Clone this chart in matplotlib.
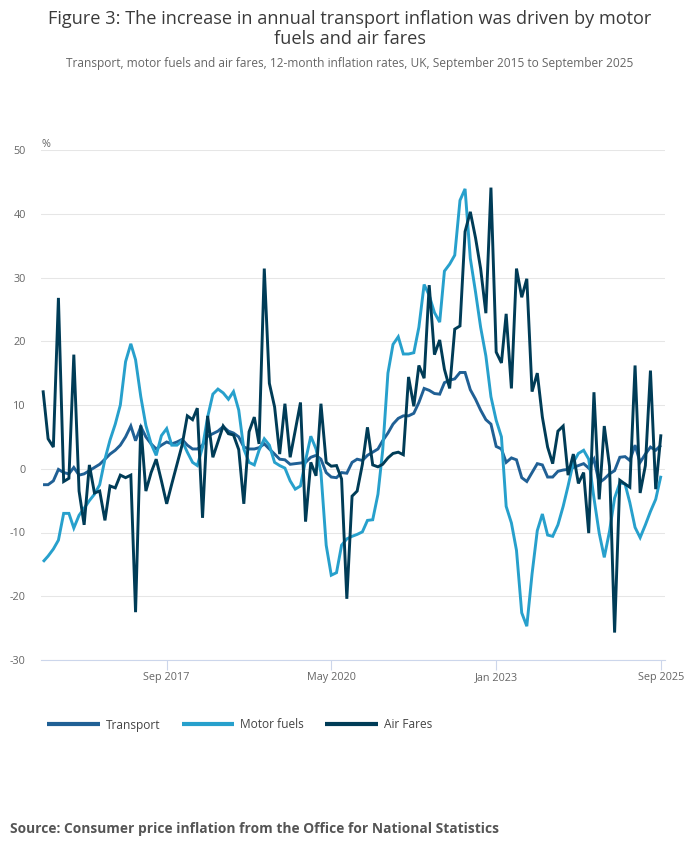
import matplotlib
matplotlib.use('Agg')
import matplotlib.pyplot as plt
import pandas as pd

# meses de Set 2015 a Set 2025
datas = pd.date_range('2015-09-01', '2025-09-01', freq='MS')

transport = [
    -2.5, -2.5, -1.9, -0.1, -0.6, -0.8, 0.2, -1.0, -0.8, -0.3,
    0.2, 0.7, 1.5, 2.3, 2.9, 3.7, 5.0, 6.7, 4.4, 6.6,
    5.0, 3.9, 3.1, 3.7, 4.2, 3.9, 4.2, 4.6, 3.7, 3.1,
    3.1, 3.7, 5.1, 5.5, 5.9, 6.6, 5.9, 5.6, 5.0, 3.4,
    3.1, 3.1, 3.3, 3.9, 3.1, 2.3, 1.5, 1.4, 0.7, 0.8,
    0.9, 1.0, 1.8, 2.1, 1.5, -0.6, -1.3, -1.4, -0.6, -0.7,
    1.0, 1.5, 1.3, 2.1, 2.6, 3.1, 4.4, 5.6, 7.0, 7.9,
    8.3, 8.3, 8.7, 10.4, 12.6, 12.3, 11.8, 11.7, 13.5, 13.9,
    14.1, 15.1, 15.1, 12.4, 10.9, 9.2, 7.7, 7.0, 3.5, 3.1,
    1.0, 1.7, 1.4, -1.4, -2.0, -0.6, 0.8, 0.6, -1.3, -1.3,
    -0.4, -0.2, -0.1, 0.2, 0.5, 0.8, 0.1, 1.5, -2.2, -1.6,
    -0.8, -0.3, 1.8, 1.9, 1.3, 3.7, 1.0, 2.3, 3.4, 2.9,
    3.7,
]

motor_fuels = [
    -14.6, -13.7, -12.6, -11.2, -7.0, -7.0, -9.3, -7.3, -6.2, -5.0,
    -4.0, -2.5, 1.5, 4.5, 7.0, 10.0, 16.8, 19.6, 17.1, 11.3,
    6.8, 3.9, 2.1, 5.2, 6.3, 3.7, 3.7, 4.4, 2.6, 1.0,
    0.5, 3.4, 8.1, 11.7, 12.5, 11.9, 10.9, 12.1, 9.2, 3.1,
    1.0, 0.6, 2.9, 4.7, 3.7, 1.0, 0.5, 0.1, -1.9, -3.2,
    -2.7, 1.3, 5.1, 3.1, -0.6, -12.0, -16.7, -16.3, -12.0, -11.0,
    -10.6, -10.3, -9.9, -8.1, -8.0, -4.0, 2.9, 15.0, 19.5, 20.7,
    18.0, 18.0, 18.2, 22.2, 28.9, 27.2, 24.5, 23.0, 31.0, 32.1,
    33.5, 42.1, 43.9, 33.0, 27.7, 22.2, 17.7, 11.3, 7.6, 5.0,
    -5.9, -8.5, -12.8, -22.6, -24.7, -16.5, -9.7, -7.1, -10.4, -10.6,
    -8.8, -5.9, -2.7, 1.0, 2.4, 2.9, 1.5, -4.6, -10.1, -13.9,
    -9.8, -4.6, -2.2, -2.4, -5.3, -9.2, -10.8, -8.8, -6.7, -4.8,
    -1.1,
]

air_fares = [
    12.3, 4.7, 3.4, 26.8, -2.0, -1.5, 17.9, -3.5, -8.8, 0.6,
    -3.8, -3.5, -8.1, -2.7, -3.0, -1.0, -1.4, -1.0, -22.5, 6.8,
    -3.5, -0.6, 1.5, -1.9, -5.5, -2.4, 0.7, 3.7, 8.3, 7.7,
    9.5, -7.7, 8.3, 1.8, 4.2, 6.7, 5.5, 5.3, 3.0, -5.5,
    5.8, 8.1, 3.9, 31.4, 13.4, 9.7, 2.3, 10.2, 1.8, 6.0,
    10.4, -8.3, 1.0, -1.1, 10.2, 1.0, 0.4, 0.5, -1.6, -20.4,
    -4.3, -3.5, 0.7, 6.5, 0.6, 0.3, 0.7, 1.7, 2.4, 2.6,
    2.2, 14.4, 9.8, 16.2, 14.2, 28.8, 17.9, 20.2, 15.6, 12.6,
    21.9, 22.4, 37.2, 40.3, 36.2, 31.4, 24.4, 44.1, 18.3, 16.6,
    24.3, 12.6, 31.4, 26.9, 29.8, 12.1, 15.0, 8.1, 3.4, 0.8,
    5.9, 6.7, -1.0, 2.3, -2.3, -0.6, -10.1, 12.0, -4.8, 6.7,
    0.4, -25.7, -1.8, -2.4, -2.9, 16.2, -3.8, 0.5, 15.4, -3.2,
    5.4,
]

series = ['Transport', 'Motor fuels', 'Air Fares']
cores = ['#206095', '#27a0cc', '#003c57']

ticks_x = ['2017-09-01', '2020-05-01', '2023-01-01', '2025-09-01']
ticks_x_labels = ['Sep 2017', 'May 2020', 'Jan 2023', 'Sep 2025']
ticks_y = [-30, -20, -10, 0, 10, 20, 30, 40, 50]

plt.rcParams['font.family'] = ['Open Sans', 'DejaVu Sans']

fig = plt.figure(figsize=(7, 8.57), dpi=100)
ax = fig.add_axes([41 / 700, 1 - 660 / 857, 624 / 700, 510 / 857])

for nome, valores, cor in zip(series, [transport, motor_fuels, air_fares], cores):
    ax.plot(datas, valores, color=cor, linewidth=2.1, label=nome,
            solid_joinstyle='miter', solid_capstyle='butt')

# limites dos eixos
passo = datas[1] - datas[0]
ax.set_xlim(datas[0] - passo * 0.4, datas[-1] + passo * 0.8)
ax.set_ylim(-30, 50)

ax.set_yticks(ticks_y)
ax.set_yticklabels([str(v) for v in ticks_y])
ax.set_xticks(pd.to_datetime(ticks_x))
ax.set_xticklabels(ticks_x_labels)

ax.grid(axis='y', color='#e6e6e6', linewidth=0.75)
ax.set_axisbelow(True)
for lado in ['top', 'right', 'left']:
    ax.spines[lado].set_visible(False)
ax.spines['bottom'].set_color('#ccd6eb')
ax.spines['bottom'].set_linewidth(0.8)

ax.tick_params(axis='y', length=0, pad=11, labelsize=7.8, labelcolor='#666666')
ax.tick_params(axis='x', length=7, width=0.8, color='#ccd6eb', pad=1.5,
               labelsize=7.8, labelcolor='#666666')

ax.text(0, 1.006, '%', transform=ax.transAxes, fontsize=7.8, color='#666666',
        ha='left', va='baseline')

# titulos
fig.text(0.5, 1 - 19 / 857, 'Figure 3: The increase in annual transport inflation was driven by motor',
         ha='center', va='center', fontsize=13.1, color='#3a3a3a')
fig.text(0.5, 1 - 39.5 / 857, 'fuels and air fares',
         ha='center', va='center', fontsize=13.1, color='#3a3a3a')
fig.text(0.5, 1 - 64 / 857,
         'Transport, motor fuels and air fares, 12-month inflation rates, UK, September 2015 to September 2025',
         ha='center', va='center', fontsize=8.6, color='#666666')

leg = fig.legend(loc='center left', bbox_to_anchor=(47 / 700, 1 - 725 / 857), ncol=3,
                 frameon=False, fontsize=8.6, handlelength=4.4, handletextpad=0.5,
                 columnspacing=1.8, borderpad=0, borderaxespad=0)
for t in leg.get_texts():
    t.set_color('#444444')
for l in leg.get_lines():
    l.set_linewidth(3)

fig.text(10 / 700, 1 - 829 / 857,
         'Source: Consumer price inflation from the Office for National Statistics',
         ha='left', va='center', fontsize=9.9, fontweight='bold', color='#555555')

plt.savefig('out.png', dpi=100)
plt.close()
